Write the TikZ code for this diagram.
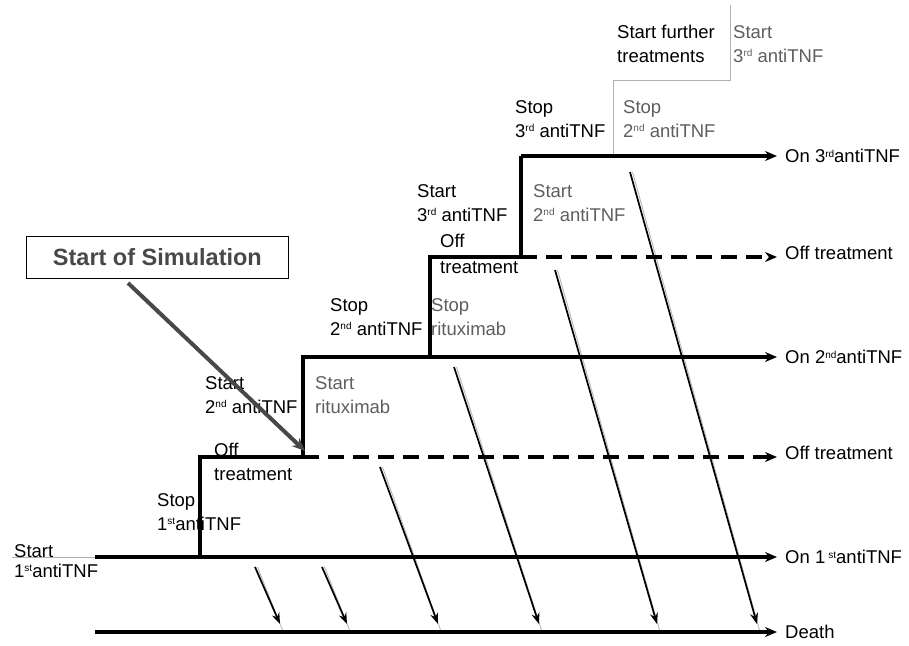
\documentclass[tikz,border=0pt]{standalone}
\usepackage{fontspec}
\setmainfont{Liberation Sans}
\usetikzlibrary{arrows.meta}
\definecolor{txtgray}{HTML}{5E5E5E}
\definecolor{stepgray}{HTML}{B0B0B0}
\definecolor{simgray}{HTML}{484848}
\definecolor{shadowgray}{HTML}{B8B8B8}
\newcommand{\supx}[1]{\raisebox{0.55ex}{\fontsize{10}{10}\selectfont #1}}
\begin{document}
\begin{tikzpicture}[x=1pt,y=-1pt,
  lbl/.style={anchor=base west, inner sep=0pt, align=left, font=\fontsize{18.5}{24}\selectfont},
  glbl/.style={lbl, text=txtgray},
  statelbl/.style={anchor=west, inner sep=0pt, font=\fontsize{18.5}{24}\selectfont},
  track/.style={line width=3.2pt, -{Stealth[length=12pt,width=10pt]}},
  offtrack/.style={track, dash pattern=on 16pt off 9pt},
  stepline/.style={line width=3.2pt, line join=miter},
  thinstep/.style={line width=1pt, draw=stepgray},
  deatharrow/.style={line width=1.7pt, -{Stealth[length=11pt,width=8pt]}},
  deathshadow/.style={line width=0.9pt, draw=shadowgray},
  simarrow/.style={line width=4pt, draw=simgray, -{Stealth[length=13pt,width=11pt]}},
  simbox/.style={draw, line width=0.8pt, minimum width=262pt, minimum height=42pt, anchor=north west, inner sep=0pt, text=simgray, font=\bfseries\fontsize{23.5}{26}\selectfont},
]
\useasboundingbox (0,0) rectangle (909,645);

% key points
\coordinate (on1s) at (95,557);
\coordinate (on1e) at (777,557);
\coordinate (deaths) at (95,632);
\coordinate (deathe) at (777,632);
\coordinate (a1) at (200,557);
\coordinate (a2) at (200,457);
\coordinate (b1) at (303,457);
\coordinate (b2) at (303,357);
\coordinate (c1) at (430,357);
\coordinate (c2) at (430,257);
\coordinate (d1) at (521,257);
\coordinate (d2) at (521,156);
\coordinate (off1e) at (777,457);
\coordinate (on2e) at (777,357);
\coordinate (off2e) at (777,257);
\coordinate (on3e) at (777,156);
\coordinate (g1) at (613,156);
\coordinate (g2) at (613,80);
\coordinate (g3) at (730,80);
\coordinate (g4) at (730,5);
\coordinate (startline) at (12,557);

% thin grey steps
\draw[thinstep] (startline) -- (on1s);
\draw[thinstep] (g1) -- (g2) -- (g3) -- (g4);

% diagonal transitions to death (shadow first)
\foreach \sx/\sy/\ex/\ey [count=\i] in {255/567/280/624, 322/567/347/624, 380/467/438/624, 454/367/539/624, 555/270/657/624, 630/172/757/624}{
  \coordinate (ds\i) at (\sx,\sy);
  \coordinate (de\i) at (\ex,\ey);
  \draw[deathshadow] ([xshift=2.5pt]ds\i) -- ([xshift=2.5pt,yshift=-6pt]de\i);
  \draw[deatharrow] (ds\i) -- (de\i);
}

% steps
\draw[stepline] (a1) -- (a2) -- (b1) -- (b2) -- (c1) -- (c2) -- (d1) -- (d2);

% state tracks
\draw[track] (on1s) -- (on1e);
\draw[track] (deaths) -- (deathe);
\draw[offtrack] (b1) -- (off1e);
\draw[track] (b2) -- (on2e);
\draw[offtrack] (d1) -- (off2e);
\draw[track] (d2) -- (on3e);

% state labels
\node[statelbl] (l-on3) at (785,156) {On 3\supx{rd}antiTNF};
\node[statelbl] (l-off2) at (785,253) {Off treatment};
\node[statelbl] (l-on2) at (785,357) {On 2\supx{nd}antiTNF};
\node[statelbl] (l-off1) at (785,453) {Off treatment};
\node[statelbl] (l-on1) at (785,557) {On 1\,\supx{st}antiTNF};
\node[statelbl] (l-death) at (785,632) {Death};

% event labels (anchor = baseline of last line)
\node[lbl] (t1) at (617,62) {Start further\\treatments};
\node[glbl] (t2) at (733,62) {Start\\3\supx{rd} antiTNF};
\node[lbl] (t3) at (515,137) {Stop\\3\supx{rd} antiTNF};
\node[glbl] (t4) at (623,137) {Stop\\2\supx{nd} antiTNF};
\node[lbl] (t5) at (417,221) {Start\\3\supx{rd} antiTNF};
\node[glbl] (t6) at (533,221) {Start\\2\supx{nd} antiTNF};
\node[lbl] (t7) at (440,273) {Off\\[2pt]treatment};
\node[lbl] (t8) at (330,335) {Stop\\2\supx{nd} antiTNF};
\node[glbl] (t9) at (431,335) {Stop\\rituximab};
\node[lbl] (t10) at (205,413) {Start\\2\supx{nd} antiTNF};
\node[glbl] (t11) at (315,413) {Start\\rituximab};
\node[lbl] (t12) at (214,480) {Off\\treatment};
\node[lbl] (t13) at (157,530) {Stop\\1\supx{st}antiTNF};
\node[lbl] (t14) at (14,577) {Start\\[-4pt]1\supx{st}antiTNF};

% start of simulation
\node[simbox] (sim) at (26,236) {Start of Simulation};
\coordinate (simfrom) at (128,283);
\coordinate (simto) at (305,451);
\draw[simarrow] (simfrom) -- (simto);
\end{tikzpicture}
\end{document}
